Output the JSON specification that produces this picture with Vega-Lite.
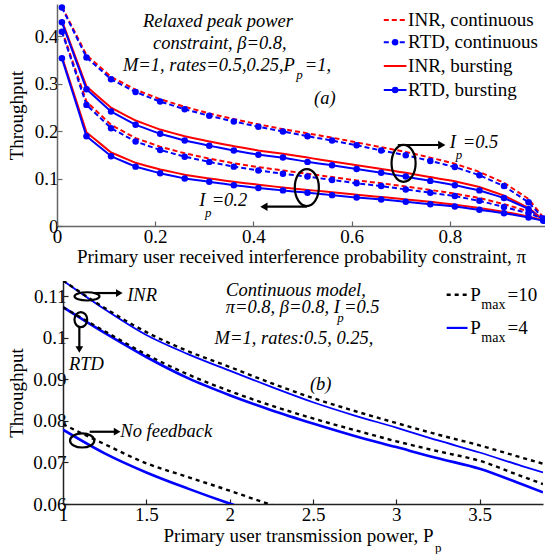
{
  "$schema": "https://vega.github.io/schema/vega-lite/v6.json",
  "background": "white",
  "padding": {"left": 7, "top": 2, "right": 0, "bottom": 0},
  "spacing": 15,
  "columns": 1,
  "align": "none",
  "config": {
    "font": "Liberation Serif, DejaVu Serif, serif",
    "view": {"stroke": null},
    "axis": {"labelFont": "Liberation Serif, DejaVu Serif, serif", "titleFont": "Liberation Serif, DejaVu Serif, serif", "labelFontSize": 19, "titleFontSize": 19, "titleFontWeight": "normal", "labelColor": "#000", "titleColor": "#000", "grid": false, "tickSize": -5, "domainWidth": 1.5, "tickWidth": 1.2, "labelFlush": false, "labelOverlap": false},
    "text": {"font": "Liberation Serif, DejaVu Serif, serif", "fontSize": 18.5}
  },
  "datasets": {
    "top": [
      {"pi":0.01,"thr":0.462,"series":"INR, continuous","ip":"0.5"},{"pi":0.06,"thr":0.360,"series":"INR, continuous","ip":"0.5"},{"pi":0.11,"thr":0.314,"series":"INR, continuous","ip":"0.5"},{"pi":0.16,"thr":0.287,"series":"INR, continuous","ip":"0.5"},{"pi":0.21,"thr":0.267,"series":"INR, continuous","ip":"0.5"},{"pi":0.26,"thr":0.251,"series":"INR, continuous","ip":"0.5"},{"pi":0.31,"thr":0.237,"series":"INR, continuous","ip":"0.5"},{"pi":0.36,"thr":0.225,"series":"INR, continuous","ip":"0.5"},{"pi":0.41,"thr":0.214,"series":"INR, continuous","ip":"0.5"},{"pi":0.46,"thr":0.204,"series":"INR, continuous","ip":"0.5"},{"pi":0.51,"thr":0.195,"series":"INR, continuous","ip":"0.5"},{"pi":0.56,"thr":0.186,"series":"INR, continuous","ip":"0.5"},{"pi":0.61,"thr":0.176,"series":"INR, continuous","ip":"0.5"},{"pi":0.66,"thr":0.166,"series":"INR, continuous","ip":"0.5"},{"pi":0.71,"thr":0.156,"series":"INR, continuous","ip":"0.5"},{"pi":0.76,"thr":0.144,"series":"INR, continuous","ip":"0.5"},{"pi":0.81,"thr":0.131,"series":"INR, continuous","ip":"0.5"},{"pi":0.86,"thr":0.114,"series":"INR, continuous","ip":"0.5"},{"pi":0.91,"thr":0.091,"series":"INR, continuous","ip":"0.5"},{"pi":0.96,"thr":0.057,"series":"INR, continuous","ip":"0.5"},{"pi":0.99,"thr":0.018,"series":"INR, continuous","ip":"0.5"},
      {"pi":0.01,"thr":0.460,"series":"RTD, continuous","ip":"0.5"},{"pi":0.06,"thr":0.355,"series":"RTD, continuous","ip":"0.5"},{"pi":0.11,"thr":0.309,"series":"RTD, continuous","ip":"0.5"},{"pi":0.16,"thr":0.282,"series":"RTD, continuous","ip":"0.5"},{"pi":0.21,"thr":0.262,"series":"RTD, continuous","ip":"0.5"},{"pi":0.26,"thr":0.246,"series":"RTD, continuous","ip":"0.5"},{"pi":0.31,"thr":0.232,"series":"RTD, continuous","ip":"0.5"},{"pi":0.36,"thr":0.220,"series":"RTD, continuous","ip":"0.5"},{"pi":0.41,"thr":0.209,"series":"RTD, continuous","ip":"0.5"},{"pi":0.46,"thr":0.199,"series":"RTD, continuous","ip":"0.5"},{"pi":0.51,"thr":0.189,"series":"RTD, continuous","ip":"0.5"},{"pi":0.56,"thr":0.180,"series":"RTD, continuous","ip":"0.5"},{"pi":0.61,"thr":0.170,"series":"RTD, continuous","ip":"0.5"},{"pi":0.66,"thr":0.159,"series":"RTD, continuous","ip":"0.5"},{"pi":0.71,"thr":0.149,"series":"RTD, continuous","ip":"0.5"},{"pi":0.76,"thr":0.137,"series":"RTD, continuous","ip":"0.5"},{"pi":0.81,"thr":0.124,"series":"RTD, continuous","ip":"0.5"},{"pi":0.86,"thr":0.107,"series":"RTD, continuous","ip":"0.5"},{"pi":0.91,"thr":0.084,"series":"RTD, continuous","ip":"0.5"},{"pi":0.96,"thr":0.050,"series":"RTD, continuous","ip":"0.5"},{"pi":0.99,"thr":0.016,"series":"RTD, continuous","ip":"0.5"},
      {"pi":0.01,"thr":0.432,"series":"INR, bursting","ip":"0.5"},{"pi":0.06,"thr":0.294,"series":"INR, bursting","ip":"0.5"},{"pi":0.11,"thr":0.249,"series":"INR, bursting","ip":"0.5"},{"pi":0.16,"thr":0.222,"series":"INR, bursting","ip":"0.5"},{"pi":0.21,"thr":0.203,"series":"INR, bursting","ip":"0.5"},{"pi":0.26,"thr":0.189,"series":"INR, bursting","ip":"0.5"},{"pi":0.31,"thr":0.178,"series":"INR, bursting","ip":"0.5"},{"pi":0.36,"thr":0.168,"series":"INR, bursting","ip":"0.5"},{"pi":0.41,"thr":0.159,"series":"INR, bursting","ip":"0.5"},{"pi":0.46,"thr":0.152,"series":"INR, bursting","ip":"0.5"},{"pi":0.51,"thr":0.144,"series":"INR, bursting","ip":"0.5"},{"pi":0.56,"thr":0.136,"series":"INR, bursting","ip":"0.5"},{"pi":0.61,"thr":0.128,"series":"INR, bursting","ip":"0.5"},{"pi":0.66,"thr":0.120,"series":"INR, bursting","ip":"0.5"},{"pi":0.71,"thr":0.112,"series":"INR, bursting","ip":"0.5"},{"pi":0.76,"thr":0.103,"series":"INR, bursting","ip":"0.5"},{"pi":0.81,"thr":0.094,"series":"INR, bursting","ip":"0.5"},{"pi":0.86,"thr":0.082,"series":"INR, bursting","ip":"0.5"},{"pi":0.91,"thr":0.064,"series":"INR, bursting","ip":"0.5"},{"pi":0.96,"thr":0.038,"series":"INR, bursting","ip":"0.5"},{"pi":0.99,"thr":0.013,"series":"INR, bursting","ip":"0.5"},
      {"pi":0.01,"thr":0.429,"series":"RTD, bursting","ip":"0.5"},{"pi":0.06,"thr":0.288,"series":"RTD, bursting","ip":"0.5"},{"pi":0.11,"thr":0.241,"series":"RTD, bursting","ip":"0.5"},{"pi":0.16,"thr":0.213,"series":"RTD, bursting","ip":"0.5"},{"pi":0.21,"thr":0.194,"series":"RTD, bursting","ip":"0.5"},{"pi":0.26,"thr":0.180,"series":"RTD, bursting","ip":"0.5"},{"pi":0.31,"thr":0.169,"series":"RTD, bursting","ip":"0.5"},{"pi":0.36,"thr":0.159,"series":"RTD, bursting","ip":"0.5"},{"pi":0.41,"thr":0.150,"series":"RTD, bursting","ip":"0.5"},{"pi":0.46,"thr":0.144,"series":"RTD, bursting","ip":"0.5"},{"pi":0.51,"thr":0.135,"series":"RTD, bursting","ip":"0.5"},{"pi":0.56,"thr":0.128,"series":"RTD, bursting","ip":"0.5"},{"pi":0.61,"thr":0.120,"series":"RTD, bursting","ip":"0.5"},{"pi":0.66,"thr":0.112,"series":"RTD, bursting","ip":"0.5"},{"pi":0.71,"thr":0.104,"series":"RTD, bursting","ip":"0.5"},{"pi":0.76,"thr":0.095,"series":"RTD, bursting","ip":"0.5"},{"pi":0.81,"thr":0.086,"series":"RTD, bursting","ip":"0.5"},{"pi":0.86,"thr":0.075,"series":"RTD, bursting","ip":"0.5"},{"pi":0.91,"thr":0.059,"series":"RTD, bursting","ip":"0.5"},{"pi":0.96,"thr":0.036,"series":"RTD, bursting","ip":"0.5"},{"pi":0.99,"thr":0.013,"series":"RTD, bursting","ip":"0.5"},
      {"pi":0.01,"thr":0.412,"series":"INR, continuous","ip":"0.2"},{"pi":0.06,"thr":0.262,"series":"INR, continuous","ip":"0.2"},{"pi":0.11,"thr":0.213,"series":"INR, continuous","ip":"0.2"},{"pi":0.16,"thr":0.185,"series":"INR, continuous","ip":"0.2"},{"pi":0.21,"thr":0.167,"series":"INR, continuous","ip":"0.2"},{"pi":0.26,"thr":0.153,"series":"INR, continuous","ip":"0.2"},{"pi":0.31,"thr":0.142,"series":"INR, continuous","ip":"0.2"},{"pi":0.36,"thr":0.132,"series":"INR, continuous","ip":"0.2"},{"pi":0.41,"thr":0.124,"series":"INR, continuous","ip":"0.2"},{"pi":0.46,"thr":0.117,"series":"INR, continuous","ip":"0.2"},{"pi":0.51,"thr":0.110,"series":"INR, continuous","ip":"0.2"},{"pi":0.56,"thr":0.103,"series":"INR, continuous","ip":"0.2"},{"pi":0.61,"thr":0.096,"series":"INR, continuous","ip":"0.2"},{"pi":0.66,"thr":0.090,"series":"INR, continuous","ip":"0.2"},{"pi":0.71,"thr":0.083,"series":"INR, continuous","ip":"0.2"},{"pi":0.76,"thr":0.076,"series":"INR, continuous","ip":"0.2"},{"pi":0.81,"thr":0.068,"series":"INR, continuous","ip":"0.2"},{"pi":0.86,"thr":0.059,"series":"INR, continuous","ip":"0.2"},{"pi":0.91,"thr":0.046,"series":"INR, continuous","ip":"0.2"},{"pi":0.96,"thr":0.031,"series":"INR, continuous","ip":"0.2"},{"pi":0.99,"thr":0.016,"series":"INR, continuous","ip":"0.2"},
      {"pi":0.01,"thr":0.409,"series":"RTD, continuous","ip":"0.2"},{"pi":0.06,"thr":0.255,"series":"RTD, continuous","ip":"0.2"},{"pi":0.11,"thr":0.206,"series":"RTD, continuous","ip":"0.2"},{"pi":0.16,"thr":0.178,"series":"RTD, continuous","ip":"0.2"},{"pi":0.21,"thr":0.160,"series":"RTD, continuous","ip":"0.2"},{"pi":0.26,"thr":0.146,"series":"RTD, continuous","ip":"0.2"},{"pi":0.31,"thr":0.135,"series":"RTD, continuous","ip":"0.2"},{"pi":0.36,"thr":0.125,"series":"RTD, continuous","ip":"0.2"},{"pi":0.41,"thr":0.117,"series":"RTD, continuous","ip":"0.2"},{"pi":0.46,"thr":0.110,"series":"RTD, continuous","ip":"0.2"},{"pi":0.51,"thr":0.104,"series":"RTD, continuous","ip":"0.2"},{"pi":0.56,"thr":0.097,"series":"RTD, continuous","ip":"0.2"},{"pi":0.61,"thr":0.090,"series":"RTD, continuous","ip":"0.2"},{"pi":0.66,"thr":0.084,"series":"RTD, continuous","ip":"0.2"},{"pi":0.71,"thr":0.077,"series":"RTD, continuous","ip":"0.2"},{"pi":0.76,"thr":0.070,"series":"RTD, continuous","ip":"0.2"},{"pi":0.81,"thr":0.063,"series":"RTD, continuous","ip":"0.2"},{"pi":0.86,"thr":0.053,"series":"RTD, continuous","ip":"0.2"},{"pi":0.91,"thr":0.040,"series":"RTD, continuous","ip":"0.2"},{"pi":0.96,"thr":0.027,"series":"RTD, continuous","ip":"0.2"},{"pi":0.99,"thr":0.015,"series":"RTD, continuous","ip":"0.2"},
      {"pi":0.01,"thr":0.357,"series":"INR, bursting","ip":"0.2"},{"pi":0.06,"thr":0.197,"series":"INR, bursting","ip":"0.2"},{"pi":0.11,"thr":0.155,"series":"INR, bursting","ip":"0.2"},{"pi":0.16,"thr":0.133,"series":"INR, bursting","ip":"0.2"},{"pi":0.21,"thr":0.119,"series":"INR, bursting","ip":"0.2"},{"pi":0.26,"thr":0.108,"series":"INR, bursting","ip":"0.2"},{"pi":0.31,"thr":0.100,"series":"INR, bursting","ip":"0.2"},{"pi":0.36,"thr":0.093,"series":"INR, bursting","ip":"0.2"},{"pi":0.41,"thr":0.087,"series":"INR, bursting","ip":"0.2"},{"pi":0.46,"thr":0.081,"series":"INR, bursting","ip":"0.2"},{"pi":0.51,"thr":0.076,"series":"INR, bursting","ip":"0.2"},{"pi":0.56,"thr":0.071,"series":"INR, bursting","ip":"0.2"},{"pi":0.61,"thr":0.066,"series":"INR, bursting","ip":"0.2"},{"pi":0.66,"thr":0.061,"series":"INR, bursting","ip":"0.2"},{"pi":0.71,"thr":0.056,"series":"INR, bursting","ip":"0.2"},{"pi":0.76,"thr":0.051,"series":"INR, bursting","ip":"0.2"},{"pi":0.81,"thr":0.045,"series":"INR, bursting","ip":"0.2"},{"pi":0.86,"thr":0.038,"series":"INR, bursting","ip":"0.2"},{"pi":0.91,"thr":0.030,"series":"INR, bursting","ip":"0.2"},{"pi":0.96,"thr":0.020,"series":"INR, bursting","ip":"0.2"},{"pi":0.99,"thr":0.012,"series":"INR, bursting","ip":"0.2"},
      {"pi":0.01,"thr":0.353,"series":"RTD, bursting","ip":"0.2"},{"pi":0.06,"thr":0.189,"series":"RTD, bursting","ip":"0.2"},{"pi":0.11,"thr":0.147,"series":"RTD, bursting","ip":"0.2"},{"pi":0.16,"thr":0.125,"series":"RTD, bursting","ip":"0.2"},{"pi":0.21,"thr":0.111,"series":"RTD, bursting","ip":"0.2"},{"pi":0.26,"thr":0.100,"series":"RTD, bursting","ip":"0.2"},{"pi":0.31,"thr":0.093,"series":"RTD, bursting","ip":"0.2"},{"pi":0.36,"thr":0.086,"series":"RTD, bursting","ip":"0.2"},{"pi":0.41,"thr":0.080,"series":"RTD, bursting","ip":"0.2"},{"pi":0.46,"thr":0.075,"series":"RTD, bursting","ip":"0.2"},{"pi":0.51,"thr":0.070,"series":"RTD, bursting","ip":"0.2"},{"pi":0.56,"thr":0.065,"series":"RTD, bursting","ip":"0.2"},{"pi":0.61,"thr":0.060,"series":"RTD, bursting","ip":"0.2"},{"pi":0.66,"thr":0.056,"series":"RTD, bursting","ip":"0.2"},{"pi":0.71,"thr":0.051,"series":"RTD, bursting","ip":"0.2"},{"pi":0.76,"thr":0.046,"series":"RTD, bursting","ip":"0.2"},{"pi":0.81,"thr":0.041,"series":"RTD, bursting","ip":"0.2"},{"pi":0.86,"thr":0.034,"series":"RTD, bursting","ip":"0.2"},{"pi":0.91,"thr":0.027,"series":"RTD, bursting","ip":"0.2"},{"pi":0.96,"thr":0.018,"series":"RTD, bursting","ip":"0.2"},{"pi":0.99,"thr":0.011,"series":"RTD, bursting","ip":"0.2"}
    ],
    "topLegLines": [
      {"series":"INR, continuous","pi":0.6653,"pi2":0.7115,"thr":0.4337},
      {"series":"RTD, continuous","pi":0.6653,"pi2":0.7115,"thr":0.3867},
      {"series":"INR, bursting","pi":0.6653,"pi2":0.7115,"thr":0.3368},
      {"series":"RTD, bursting","pi":0.6653,"pi2":0.7115,"thr":0.2863}
    ],
    "topLegMarks": [
      {"series":"RTD, continuous","pi":0.6884,"thr":0.3867},
      {"series":"RTD, bursting","pi":0.6884,"thr":0.2863}
    ],
    "topLegText": [
      {"label":"INR, continuous","pi":0.7148,"thr":0.4337},
      {"label":"RTD, continuous","pi":0.7148,"thr":0.3867},
      {"label":"INR, bursting","pi":0.7148,"thr":0.3368},
      {"label":"RTD, bursting","pi":0.7148,"thr":0.2863}
    ],
    "topTextC": [
      {"label":"Relaxed peak power","pi":0.3276,"thr":0.4322},
      {"label":"constraint, β=0.8,","pi":0.3316,"thr":0.3846},
      {"label":"(a)","pi":0.5453,"thr":0.2688}
    ],
    "topTextR": [
      {"label":"M=1, rates=0.5,0.25,P","pi":0.4842,"thr":0.3389}
    ],
    "topTextL": [
      {"label":"=1,","pi":0.5046,"thr":0.3389},
      {"label":"I","pi":0.7996,"thr":0.1775},
      {"label":"=0.5","pi":0.826,"thr":0.1775},
      {"label":"I","pi":0.2895,"thr":0.0547},
      {"label":"=0.2","pi":0.3148,"thr":0.0547}
    ],
    "topSub": [
      {"label":"p","pi":0.4873,"thr":0.3179},
      {"label":"p","pi":0.8118,"thr":0.1495},
      {"label":"p","pi":0.3011,"thr":0.028}
    ],
    "topEllipses": [
      {"pi":0.7056,"thr":0.132},
      {"pi":0.5086,"thr":0.081}
    ],
    "topArrowLines": [
      {"pi":0.6938,"pi2":0.7792,"thr":0.1705},
      {"pi":0.5086,"pi2":0.4252,"thr":0.0406}
    ],
    "topHeadR": [{"pi":0.7833,"thr":0.1705}],
    "topHeadL": [{"pi":0.4212,"thr":0.0406}],
    "bottom": [
      {"P":1,"thr":0.1138,"curve":"INR","pmax":"4"},{"P":1.25,"thr":0.1069,"curve":"INR","pmax":"4"},{"P":1.5,"thr":0.1007,"curve":"INR","pmax":"4"},{"P":1.75,"thr":0.0961,"curve":"INR","pmax":"4"},{"P":2,"thr":0.0921,"curve":"INR","pmax":"4"},{"P":2.25,"thr":0.0882,"curve":"INR","pmax":"4"},{"P":2.5,"thr":0.0845,"curve":"INR","pmax":"4"},{"P":2.75,"thr":0.0813,"curve":"INR","pmax":"4"},{"P":3,"thr":0.0784,"curve":"INR","pmax":"4"},{"P":3.25,"thr":0.0753,"curve":"INR","pmax":"4"},{"P":3.5,"thr":0.0724,"curve":"INR","pmax":"4"},{"P":3.75,"thr":0.0692,"curve":"INR","pmax":"4"},{"P":3.88,"thr":0.0676,"curve":"INR","pmax":"4"},
      {"P":1,"thr":0.1138,"curve":"INR","pmax":"10"},{"P":1.25,"thr":0.1072,"curve":"INR","pmax":"10"},{"P":1.5,"thr":0.1014,"curve":"INR","pmax":"10"},{"P":1.75,"thr":0.0968,"curve":"INR","pmax":"10"},{"P":2,"thr":0.093,"curve":"INR","pmax":"10"},{"P":2.25,"thr":0.0891,"curve":"INR","pmax":"10"},{"P":2.5,"thr":0.0855,"curve":"INR","pmax":"10"},{"P":2.75,"thr":0.0824,"curve":"INR","pmax":"10"},{"P":3,"thr":0.0795,"curve":"INR","pmax":"10"},{"P":3.25,"thr":0.0767,"curve":"INR","pmax":"10"},{"P":3.5,"thr":0.0741,"curve":"INR","pmax":"10"},{"P":3.75,"thr":0.0712,"curve":"INR","pmax":"10"},{"P":3.88,"thr":0.0697,"curve":"INR","pmax":"10"},
      {"P":1,"thr":0.1074,"curve":"RTD","pmax":"4"},{"P":1.25,"thr":0.1012,"curve":"RTD","pmax":"4"},{"P":1.5,"thr":0.0954,"curve":"RTD","pmax":"4"},{"P":1.75,"thr":0.0903,"curve":"RTD","pmax":"4"},{"P":2,"thr":0.0862,"curve":"RTD","pmax":"4"},{"P":2.25,"thr":0.0826,"curve":"RTD","pmax":"4"},{"P":2.5,"thr":0.0794,"curve":"RTD","pmax":"4"},{"P":2.75,"thr":0.0764,"curve":"RTD","pmax":"4"},{"P":3,"thr":0.0737,"curve":"RTD","pmax":"4"},{"P":3.25,"thr":0.071,"curve":"RTD","pmax":"4"},{"P":3.5,"thr":0.0685,"curve":"RTD","pmax":"4"},{"P":3.75,"thr":0.0648,"curve":"RTD","pmax":"4"},{"P":3.88,"thr":0.0628,"curve":"RTD","pmax":"4"},
      {"P":1,"thr":0.1074,"curve":"RTD","pmax":"10"},{"P":1.25,"thr":0.1016,"curve":"RTD","pmax":"10"},{"P":1.5,"thr":0.096,"curve":"RTD","pmax":"10"},{"P":1.75,"thr":0.0912,"curve":"RTD","pmax":"10"},{"P":2,"thr":0.0872,"curve":"RTD","pmax":"10"},{"P":2.25,"thr":0.0837,"curve":"RTD","pmax":"10"},{"P":2.5,"thr":0.0806,"curve":"RTD","pmax":"10"},{"P":2.75,"thr":0.0778,"curve":"RTD","pmax":"10"},{"P":3,"thr":0.0751,"curve":"RTD","pmax":"10"},{"P":3.25,"thr":0.0727,"curve":"RTD","pmax":"10"},{"P":3.5,"thr":0.0704,"curve":"RTD","pmax":"10"},{"P":3.75,"thr":0.0667,"curve":"RTD","pmax":"10"},{"P":3.88,"thr":0.0648,"curve":"RTD","pmax":"10"},
      {"P":1,"thr":0.0779,"curve":"NF","pmax":"4"},{"P":1.25,"thr":0.0722,"curve":"NF","pmax":"4"},{"P":1.5,"thr":0.0676,"curve":"NF","pmax":"4"},{"P":1.75,"thr":0.0637,"curve":"NF","pmax":"4"},{"P":2,"thr":0.0601,"curve":"NF","pmax":"4"},{"P":2.25,"thr":0.0568,"curve":"NF","pmax":"4"},{"P":2.5,"thr":0.0538,"curve":"NF","pmax":"4"},
      {"P":1,"thr":0.0792,"curve":"NF","pmax":"10"},{"P":1.25,"thr":0.0744,"curve":"NF","pmax":"10"},{"P":1.5,"thr":0.0698,"curve":"NF","pmax":"10"},{"P":1.75,"thr":0.0665,"curve":"NF","pmax":"10"},{"P":2,"thr":0.0632,"curve":"NF","pmax":"10"},{"P":2.25,"thr":0.0598,"curve":"NF","pmax":"10"},{"P":2.5,"thr":0.0568,"curve":"NF","pmax":"10"}
    ],
    "botLegBlack": [{"P":3.302,"P2":3.427,"thr":0.1104}],
    "botLegBlue": [{"P":3.302,"P2":3.427,"thr":0.1024}],
    "botLegP": [
      {"label":"P","P":3.444,"thr":0.1104},
      {"label":"=10","P":3.667,"thr":0.1104},
      {"label":"P","P":3.444,"thr":0.1024},
      {"label":"=4","P":3.667,"thr":0.1024}
    ],
    "botLegSub": [
      {"label":"max","P":3.51,"thr":0.108},
      {"label":"max","P":3.51,"thr":0.1}
    ],
    "botTextC": [
      {"label":"Continuous model,","P":2.398,"thr":0.1115},
      {"label":"M=1, rates:0.5, 0.25,","P":2.386,"thr":0.0999},
      {"label":"(b)","P":2.546,"thr":0.0888},
      {"label":"RTD","P":1.1406,"thr":0.0936}
    ],
    "botTextR": [
      {"label":"π=0.8, β=0.8, I","P":2.662,"thr":0.1075}
    ],
    "botTextL": [
      {"label":"=0.5","P":2.686,"thr":0.1075},
      {"label":"INR","P":1.385,"thr":0.1104},
      {"label":"No feedback","P":1.344,"thr":0.0776}
    ],
    "botSub": [
      {"label":"p","P":2.645,"thr":0.1047}
    ],
    "botAxisSub": [
      {"label":"p","P":3.232,"thr":0.0495}
    ],
    "ellINR": [{"P":1.144,"thr":0.11}],
    "ellRTD": [{"P":1.107,"thr":0.1044}],
    "ellNF": [{"P":1.115,"thr":0.0753}],
    "botArrowH": [
      {"P":1.1875,"P2":1.323,"thr":0.1108},
      {"P":1.16,"P2":1.31,"thr":0.0774}
    ],
    "botArrowV": [{"P":1.098,"thr":0.1028,"thr2":0.0978}],
    "botHeadR": [{"P":1.338,"thr":0.1108},{"P":1.325,"thr":0.0774}],
    "botHeadD": [{"P":1.098,"thr":0.0972}]
  },
  "concat": [
    {
      "width": 482,
      "height": 222,
      "layer": [
        {
          "data": {"name": "top"},
          "mark": {"type": "line", "strokeWidth": 2},
          "encoding": {
            "x": {"field": "pi", "type": "quantitative", "scale": {"domain": [0, 0.9935], "range": [-6, 482], "nice": false, "zero": false},
                  "axis": {"title": "Primary user received interference probability constraint, π", "values": [0, 0.2, 0.4, 0.6, 0.8], "format": "~g", "domainColor": "#666", "tickColor": "#666", "labelPadding": 6, "titlePadding": 1}},
            "y": {"field": "thr", "type": "quantitative", "scale": {"domain": [0, 0.4674], "nice": false},
                  "axis": {"title": "Throughput", "values": [0, 0.1, 0.2, 0.3, 0.4], "format": "~g", "domainColor": "#666", "tickColor": "#666", "labelPadding": 4, "titlePadding": 3, "minExtent": 28, "maxExtent": 28, "offset": 6}},
            "color": {"field": "series", "type": "nominal", "scale": {"domain": ["INR, continuous", "RTD, continuous", "INR, bursting", "RTD, bursting"], "range": ["#ff0000", "#0000ff", "#ff0000", "#0000ff"]}, "legend": null},
            "strokeDash": {"field": "series", "type": "nominal", "scale": {"domain": ["INR, continuous", "RTD, continuous", "INR, bursting", "RTD, bursting"], "range": [[5, 3], [5, 3], [10, 0], [10, 0]]}, "legend": null},
            "detail": {"field": "ip"}
          }
        },
        {
          "data": {"name": "top"},
          "transform": [{"filter": {"field": "series", "oneOf": ["RTD, continuous", "RTD, bursting"]}}],
          "mark": {"type": "point", "filled": true, "size": 42, "color": "#0000ff", "opacity": 1},
          "encoding": {"x": {"field": "pi", "type": "quantitative"}, "y": {"field": "thr", "type": "quantitative"}}
        },
        {
          "data": {"name": "topLegLines"},
          "mark": {"type": "rule", "strokeWidth": 2},
          "encoding": {
            "x": {"field": "pi", "type": "quantitative"}, "x2": {"field": "pi2"}, "y": {"field": "thr", "type": "quantitative"},
            "color": {"field": "series", "type": "nominal", "legend": null},
            "strokeDash": {"field": "series", "type": "nominal", "legend": null}
          }
        },
        {
          "data": {"name": "topLegMarks"},
          "mark": {"type": "point", "filled": true, "size": 42, "color": "#0000ff", "opacity": 1},
          "encoding": {"x": {"field": "pi", "type": "quantitative"}, "y": {"field": "thr", "type": "quantitative"}}
        },
        {
          "data": {"name": "topLegText"},
          "mark": {"type": "text", "align": "left", "baseline": "middle", "fontSize": 19},
          "encoding": {"x": {"field": "pi", "type": "quantitative"}, "y": {"field": "thr", "type": "quantitative"}, "text": {"field": "label"}}
        },
        {
          "data": {"name": "topTextC"},
          "mark": {"type": "text", "align": "center", "baseline": "middle", "fontStyle": "italic"},
          "encoding": {"x": {"field": "pi", "type": "quantitative"}, "y": {"field": "thr", "type": "quantitative"}, "text": {"field": "label"}}
        },
        {
          "data": {"name": "topTextR"},
          "mark": {"type": "text", "align": "right", "baseline": "middle", "fontStyle": "italic"},
          "encoding": {"x": {"field": "pi", "type": "quantitative"}, "y": {"field": "thr", "type": "quantitative"}, "text": {"field": "label"}}
        },
        {
          "data": {"name": "topTextL"},
          "mark": {"type": "text", "align": "left", "baseline": "middle", "fontStyle": "italic"},
          "encoding": {"x": {"field": "pi", "type": "quantitative"}, "y": {"field": "thr", "type": "quantitative"}, "text": {"field": "label"}}
        },
        {
          "data": {"name": "topSub"},
          "mark": {"type": "text", "align": "left", "baseline": "middle", "fontStyle": "italic", "fontSize": 13},
          "encoding": {"x": {"field": "pi", "type": "quantitative"}, "y": {"field": "thr", "type": "quantitative"}, "text": {"field": "label"}}
        },
        {
          "data": {"name": "topEllipses"},
          "mark": {"type": "point", "shape": "M-0.65,0A0.65,1,0,1,0,0.65,0A0.65,1,0,1,0,-0.65,0Z", "size": 1369, "filled": false, "stroke": "#000", "strokeWidth": 2.2, "opacity": 1},
          "encoding": {"x": {"field": "pi", "type": "quantitative"}, "y": {"field": "thr", "type": "quantitative"}}
        },
        {
          "data": {"name": "topArrowLines"},
          "mark": {"type": "rule", "strokeWidth": 2.2, "color": "#000"},
          "encoding": {"x": {"field": "pi", "type": "quantitative"}, "x2": {"field": "pi2"}, "y": {"field": "thr", "type": "quantitative"}}
        },
        {
          "data": {"name": "topHeadR"},
          "mark": {"type": "point", "shape": "triangle-right", "size": 70, "filled": true, "color": "#000", "opacity": 1},
          "encoding": {"x": {"field": "pi", "type": "quantitative"}, "y": {"field": "thr", "type": "quantitative"}}
        },
        {
          "data": {"name": "topHeadL"},
          "mark": {"type": "point", "shape": "triangle-left", "size": 70, "filled": true, "color": "#000", "opacity": 1},
          "encoding": {"x": {"field": "pi", "type": "quantitative"}, "y": {"field": "thr", "type": "quantitative"}}
        }
      ]
    },
    {
      "width": 480,
      "height": 223,
      "layer": [
        {
          "data": {"name": "bottom"},
          "transform": [{"filter": {"field": "pmax", "equal": "4"}}, {"filter": {"field": "curve", "oneOf": ["RTD", "NF"]}}],
          "mark": {"type": "line", "color": "#0000ff", "strokeWidth": 2.6, "interpolate": "monotone", "clip": true},
          "encoding": {
            "x": {"field": "P", "type": "quantitative", "scale": {"domain": [1, 3.88], "nice": false, "zero": false},
                  "axis": {"title": "Primary user transmission power, P", "values": [1, 1.5, 2, 2.5, 3, 3.5], "format": "~g", "domainColor": "#222", "tickColor": "#222", "labelPadding": 6, "titlePadding": 2, "titleX": 235}},
            "y": {"field": "thr", "type": "quantitative", "scale": {"domain": [0.06, 0.1137], "nice": false, "zero": false},
                  "axis": {"title": "Throughput", "values": [0.06, 0.07, 0.08, 0.09, 0.1, 0.11], "format": "~g", "domainColor": "#222", "tickColor": "#222", "labelPadding": 2, "titlePadding": 2, "minExtent": 35, "maxExtent": 35}},
            "detail": {"field": "curve"}
          }
        },
        {
          "data": {"name": "bottom"},
          "transform": [{"filter": {"field": "pmax", "equal": "4"}}, {"filter": {"field": "curve", "equal": "INR"}}],
          "mark": {"type": "line", "color": "#0000ff", "strokeWidth": 1.8, "interpolate": "monotone", "clip": true},
          "encoding": {"x": {"field": "P", "type": "quantitative"}, "y": {"field": "thr", "type": "quantitative"}, "detail": {"field": "curve"}}
        },
        {
          "data": {"name": "bottom"},
          "transform": [{"filter": {"field": "pmax", "equal": "10"}}],
          "mark": {"type": "line", "color": "#000", "strokeWidth": 2.4, "strokeDash": [4, 4], "interpolate": "monotone", "clip": true},
          "encoding": {"x": {"field": "P", "type": "quantitative"}, "y": {"field": "thr", "type": "quantitative"}, "detail": {"field": "curve"}}
        },
        {
          "data": {"name": "botLegBlack"},
          "mark": {"type": "rule", "color": "#000", "strokeWidth": 2.4, "strokeDash": [4, 4]},
          "encoding": {"x": {"field": "P", "type": "quantitative"}, "x2": {"field": "P2"}, "y": {"field": "thr", "type": "quantitative"}}
        },
        {
          "data": {"name": "botLegBlue"},
          "mark": {"type": "rule", "color": "#0000ff", "strokeWidth": 2.2},
          "encoding": {"x": {"field": "P", "type": "quantitative"}, "x2": {"field": "P2"}, "y": {"field": "thr", "type": "quantitative"}}
        },
        {
          "data": {"name": "botLegP"},
          "mark": {"type": "text", "align": "left", "baseline": "middle", "fontSize": 19},
          "encoding": {"x": {"field": "P", "type": "quantitative"}, "y": {"field": "thr", "type": "quantitative"}, "text": {"field": "label"}}
        },
        {
          "data": {"name": "botLegSub"},
          "mark": {"type": "text", "align": "left", "baseline": "middle", "fontSize": 14},
          "encoding": {"x": {"field": "P", "type": "quantitative"}, "y": {"field": "thr", "type": "quantitative"}, "text": {"field": "label"}}
        },
        {
          "data": {"name": "botTextC"},
          "mark": {"type": "text", "align": "center", "baseline": "middle", "fontStyle": "italic"},
          "encoding": {"x": {"field": "P", "type": "quantitative"}, "y": {"field": "thr", "type": "quantitative"}, "text": {"field": "label"}}
        },
        {
          "data": {"name": "botTextR"},
          "mark": {"type": "text", "align": "right", "baseline": "middle", "fontStyle": "italic"},
          "encoding": {"x": {"field": "P", "type": "quantitative"}, "y": {"field": "thr", "type": "quantitative"}, "text": {"field": "label"}}
        },
        {
          "data": {"name": "botTextL"},
          "mark": {"type": "text", "align": "left", "baseline": "middle", "fontStyle": "italic"},
          "encoding": {"x": {"field": "P", "type": "quantitative"}, "y": {"field": "thr", "type": "quantitative"}, "text": {"field": "label"}}
        },
        {
          "data": {"name": "botSub"},
          "mark": {"type": "text", "align": "left", "baseline": "middle", "fontStyle": "italic", "fontSize": 13},
          "encoding": {"x": {"field": "P", "type": "quantitative"}, "y": {"field": "thr", "type": "quantitative"}, "text": {"field": "label"}}
        },
        {
          "data": {"name": "botAxisSub"},
          "mark": {"type": "text", "align": "left", "baseline": "middle", "fontSize": 13},
          "encoding": {"x": {"field": "P", "type": "quantitative"}, "y": {"field": "thr", "type": "quantitative"}, "text": {"field": "label"}}
        },
        {
          "data": {"name": "ellINR"},
          "mark": {"type": "point", "shape": "M-1,0A1,0.33,0,1,0,1,0A1,0.33,0,1,0,-1,0Z", "size": 625, "filled": false, "stroke": "#000", "strokeWidth": 2.2, "opacity": 1},
          "encoding": {"x": {"field": "P", "type": "quantitative"}, "y": {"field": "thr", "type": "quantitative"}}
        },
        {
          "data": {"name": "ellRTD"},
          "mark": {"type": "point", "shape": "M-0.85,0A0.85,1,0,1,0,0.85,0A0.85,1,0,1,0,-0.85,0Z", "size": 225, "filled": false, "stroke": "#000", "strokeWidth": 2.2, "opacity": 1},
          "encoding": {"x": {"field": "P", "type": "quantitative"}, "y": {"field": "thr", "type": "quantitative"}}
        },
        {
          "data": {"name": "ellNF"},
          "mark": {"type": "point", "shape": "M-1,0A1,0.58,0,1,0,1,0A1,0.58,0,1,0,-1,0Z", "size": 590, "filled": false, "stroke": "#000", "strokeWidth": 2.2, "opacity": 1},
          "encoding": {"x": {"field": "P", "type": "quantitative"}, "y": {"field": "thr", "type": "quantitative"}}
        },
        {
          "data": {"name": "botArrowH"},
          "mark": {"type": "rule", "strokeWidth": 2.2, "color": "#000"},
          "encoding": {"x": {"field": "P", "type": "quantitative"}, "x2": {"field": "P2"}, "y": {"field": "thr", "type": "quantitative"}}
        },
        {
          "data": {"name": "botArrowV"},
          "mark": {"type": "rule", "strokeWidth": 2.2, "color": "#000"},
          "encoding": {"x": {"field": "P", "type": "quantitative"}, "y": {"field": "thr", "type": "quantitative"}, "y2": {"field": "thr2"}}
        },
        {
          "data": {"name": "botHeadR"},
          "mark": {"type": "point", "shape": "triangle-right", "size": 60, "filled": true, "color": "#000", "opacity": 1},
          "encoding": {"x": {"field": "P", "type": "quantitative"}, "y": {"field": "thr", "type": "quantitative"}}
        },
        {
          "data": {"name": "botHeadD"},
          "mark": {"type": "point", "shape": "triangle-down", "size": 60, "filled": true, "color": "#000", "opacity": 1},
          "encoding": {"x": {"field": "P", "type": "quantitative"}, "y": {"field": "thr", "type": "quantitative"}}
        }
      ]
    }
  ]
}
